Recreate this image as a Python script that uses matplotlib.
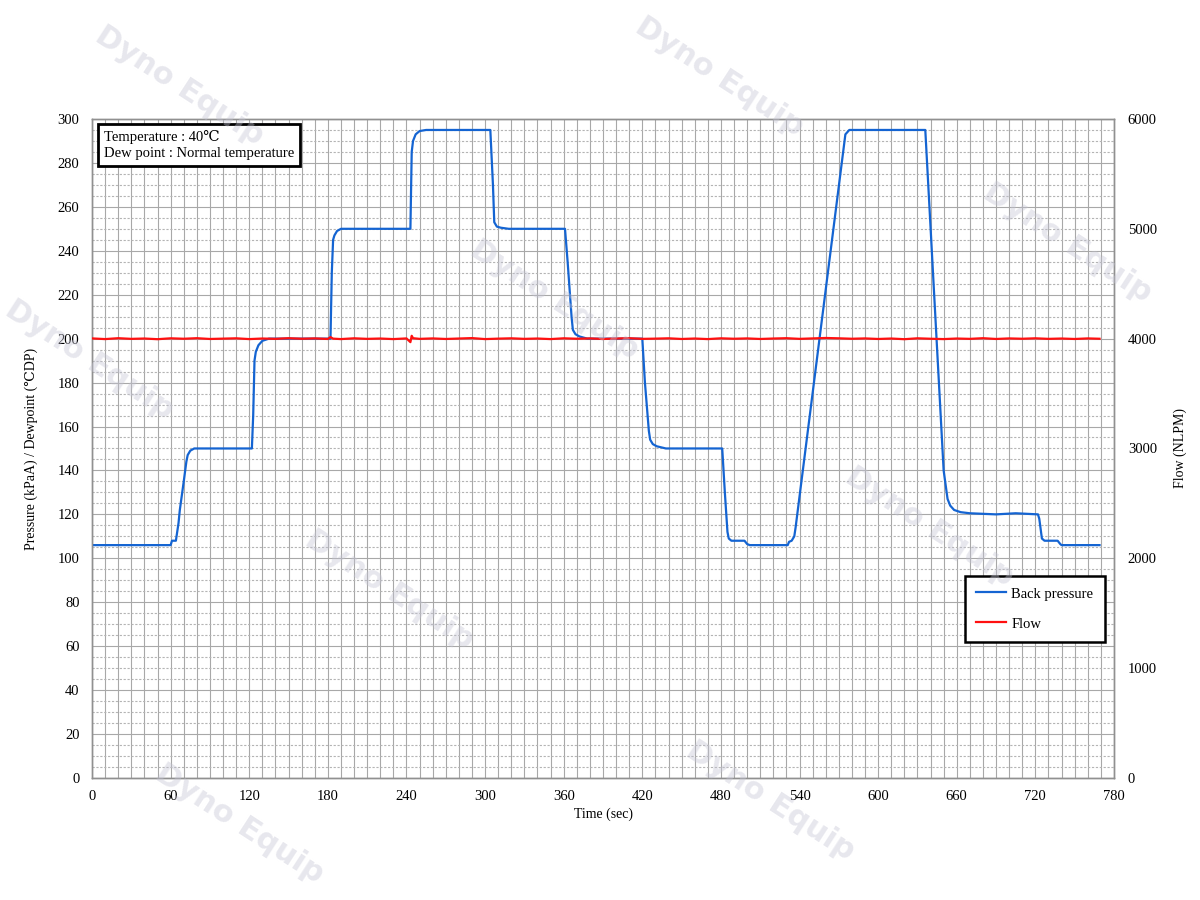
import matplotlib
matplotlib.use("Agg")
import matplotlib.pyplot as plt
from matplotlib.lines import Line2D
from matplotlib.ticker import MultipleLocator

# back pressure (kPaA) vs time (sec)
bp_time = [0, 60, 61, 64, 65, 66, 67, 70, 72, 73, 75, 78,
           122, 123, 124, 125, 127, 130, 135,
           182, 183, 184, 185, 187, 190,
           243, 244, 245, 247, 250, 255,
           304, 306, 307, 309, 312, 318,
           361, 363, 366, 367, 369, 372, 378,
           420, 422, 425, 426, 428, 431, 438,
           481, 483, 485, 486, 488, 498, 500, 502,
           531, 532, 534, 536, 537, 575, 578,
           636, 650, 653, 655, 658, 663, 670, 690, 705,
           722, 723, 725, 727, 737, 739, 740, 769]
bp_vals = [106, 106, 108, 108, 112, 116, 122, 135, 144, 147, 149, 150,
           150, 165, 190, 194, 197, 199, 200,
           200, 230, 245, 247, 249, 250,
           250, 285, 290, 293, 294.5, 295,
           295, 270, 253, 251, 250.5, 250,
           250, 235, 210, 204, 202, 201, 200,
           200, 180, 158, 154, 152, 151, 150,
           150, 130, 112, 109, 108, 108, 106.5, 106,
           106, 107.5, 108, 110, 114, 293, 295,
           295, 140, 127, 124, 122, 121, 120.5, 120, 120.5,
           120, 118, 109, 108, 108, 106.5, 106, 106]

# flow (NLPM) vs time (sec)
flow_time = [0, 10, 20, 30, 40, 50, 60, 70, 80, 90, 100, 110, 120, 130, 140,
             150, 160, 170, 180, 182, 184, 190, 200, 210, 220, 230, 240, 243,
             244, 245, 250, 260, 270, 280, 290, 300, 310, 320, 330, 340, 350,
             360, 370, 380, 390, 400, 410, 420, 430, 440, 450, 460, 470, 480,
             490, 500, 510, 520, 530, 540, 550, 560, 570, 580, 590, 600, 610,
             620, 630, 640, 650, 660, 670, 680, 690, 700, 710, 720, 730, 740,
             750, 760, 769]
flow_vals = [4002, 3996, 4004, 3998, 4001, 3995, 4003, 3999, 4004, 3997, 4000,
             4003, 3996, 4001, 3998, 4004, 3999, 4002, 3997, 4014, 4000, 3996,
             4003, 3998, 4001, 3996, 4002, 3968, 4026, 4004, 3998, 4002, 3997,
             4001, 4005, 3996, 4000, 4003, 3998, 4001, 3996, 4003, 3999, 4002,
             3997, 4001, 4004, 3998, 4000, 4003, 3997, 4001, 3996, 4003, 3999,
             4002, 3997, 4001, 4004, 3998, 4002, 4006, 4003, 3999, 4002, 3997,
             4001, 3995, 4003, 3999, 3996, 4001, 3998, 4004, 3997, 4002, 3999,
             4003, 3998, 4001, 3997, 4002, 3999]

xticks = [0, 60, 120, 180, 240, 300, 360, 420, 480, 540, 600, 660, 720, 780]

blue = "#1464d2"
red = "#ff1010"
serif = ["Liberation Serif", "DejaVu Serif"]
plt.rcParams["font.family"] = serif

fig = plt.figure(figsize=(12, 9), dpi=100)
ax = fig.add_axes([0.0767, 0.1356, 0.8516, 0.7322])
ax2 = ax.twinx()

ax.plot(bp_time, bp_vals, color=blue, lw=1.6, zorder=3)
ax2.plot(flow_time, flow_vals, color=red, lw=1.6, zorder=3)

ax.set_xlim(0, 780)
ax.set_ylim(0, 300)
ax2.set_ylim(0, 6000)
ax.set_xticks(xticks)
ax.set_yticks(range(0, 301, 20))
ax2.set_yticks(range(0, 6001, 1000))

ax.xaxis.set_minor_locator(MultipleLocator(10))
ax.yaxis.set_minor_locator(MultipleLocator(5))
ax.grid(which="minor", axis="x", color="#a8a8a8", lw=0.8)
ax.grid(which="major", axis="x", color="#a8a8a8", lw=0.8)
ax.grid(which="minor", axis="y", color="#b4b4b4", lw=0.8, ls=(0, (2, 1.5)))
ax.grid(which="major", axis="y", color="#a8a8a8", lw=0.8)
ax.set_axisbelow(True)

for a in (ax, ax2):
    a.tick_params(which="both", length=0, labelsize=10.5)
    for s in a.spines.values():
        s.set_color("#909090")
        s.set_linewidth(1.0)
ax.tick_params(axis="x", pad=9)
ax.tick_params(axis="y", pad=9)
ax2.tick_params(axis="y", pad=10)

ax.set_xlabel("Time (sec)", fontsize=10, labelpad=3)
ax.set_ylabel("Pressure (kPaA) / Dewpoint (\u2103DP)", fontsize=10, labelpad=14)
ax2.set_ylabel("Flow (NLPM)", fontsize=10, labelpad=12)

ax.text(0.012, 0.983, "Temperature : 40\u2103\nDew point : Normal temperature",
        transform=ax.transAxes, fontsize=10.5, va="top", ha="left",
        linespacing=1.3, zorder=10,
        bbox=dict(boxstyle="square,pad=0.4", fc="white", ec="black", lw=2))

handles = [Line2D([], [], color=blue, lw=1.6), Line2D([], [], color=red, lw=1.6)]
leg = ax2.legend(handles, ["Back pressure", "Flow"], loc="lower right",
                 bbox_to_anchor=(0.9985, 0.195), fancybox=False, framealpha=1,
                 edgecolor="black", fontsize=10.5, handlelength=2.0,
                 labelspacing=1.15, borderpad=0.8, handletextpad=0.4)
leg.get_frame().set_linewidth(1.8)
leg.set_zorder(10)

# watermark
marks = [(0.15, 0.905), (0.6, 0.915), (0.89, 0.73), (0.075, 0.6),
         (0.462, 0.667), (0.325, 0.345), (0.775, 0.415), (0.642, 0.11),
         (0.2, 0.085)]
for mx, my in marks:
    fig.text(mx, my, "Dyno Equip", fontsize=22, fontweight="bold",
             family="DejaVu Sans", color="#c4c4d4", alpha=0.4,
             rotation=-33, ha="center", va="center", zorder=20)

fig.savefig("out.png", dpi=100, facecolor="white")
